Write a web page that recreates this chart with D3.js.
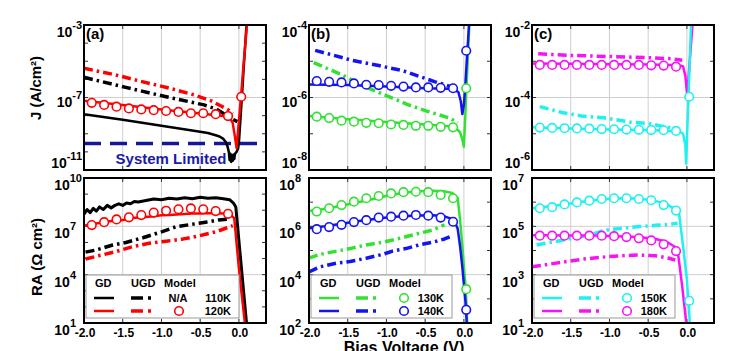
<!DOCTYPE html>
<html>
<head>
<meta charset="utf-8">
<script src="https://cdn.jsdelivr.net/npm/d3@7"></script>
<style>
  body { margin: 0; background: #fff; }
  svg text { font-family: "Liberation Sans", Arial, sans-serif; font-weight: bold; }
</style>
</head>
<body>
<svg id="chart" width="750" height="351"></svg>
<script>
// ---------- data : current density J (A/cm^2), top row ----------
// (a) 110K / 120K
const vGD110 = [-2.0,-1.75,-1.5,-1.25,-1.0,-0.75,-0.5,-0.4,-0.3,-0.25,-0.2,-0.17,-0.15,-0.13,-0.12,-0.11,-0.10,-0.09,-0.08,-0.07,-0.06,-0.05,-0.03,-0.01,0.0,0.02,0.04,0.06,0.08,0.10];
const jGD110 = [1.2e-8,8.3e-9,5.9e-9,4.0e-9,2.8e-9,1.9e-9,1.3e-9,1.1e-9,8.3e-10,7.1e-10,5.2e-10,3.5e-10,2.2e-10,1.0e-10,3.5e-11,7.9e-11,2.8e-11,6.3e-11,3.2e-11,7.1e-11,4.0e-11,7.9e-11,1.0e-10,1.6e-10,3.2e-10,6.3e-9,1.3e-7,3.2e-6,6.3e-5,1.3e-3];
const vGD120 = [-2.0,-1.5,-1.0,-0.5,-0.2,-0.12,-0.08,-0.05,-0.03,0.0,0.03,0.06,0.09,0.12];
const jGD120 = [6.6e-8,3.8e-8,2.2e-8,1.3e-8,9.5e-9,7.9e-9,4.0e-9,6.3e-10,1.6e-10,5.0e-9,1.6e-7,6.3e-6,2.0e-4,6.3e-3];
const vUGD110 = [-2.0,-1.46,-0.94,-0.45,-0.3,-0.17,-0.08,-0.02];
const jUGD110 = [1.3e-6,3.6e-7,1.1e-7,3.9e-8,2.4e-8,1.1e-8,6.3e-9,4.7e-9];
const vUGD120 = [-2.0,-1.6,-1.28,-0.9,-0.58,-0.35,-0.23,-0.13,-0.08];
const jUGD120 = [4.1e-6,1.8e-6,8.1e-7,3.3e-7,1.4e-7,6.3e-8,3.4e-8,2.0e-8,1.3e-8];
const vModel = [-1.9,-1.74,-1.58,-1.42,-1.26,-1.1,-0.94,-0.78,-0.62,-0.46,-0.3,-0.14,0.03];
const jMod120 = [5.1e-8,3.9e-8,3.1e-8,2.5e-8,2.2e-8,2.0e-8,1.8e-8,1.6e-8,1.35e-8,1.35e-8,1.2e-8,9.5e-9,1.1e-7];
const jSystemLimit = 2.9e-10;

// (b) 130K / 140K
const vGD130 = [-2.0,-1.5,-1.0,-0.5,-0.2,-0.1,-0.05,-0.02,0.0,0.02,0.04,0.06,0.08];
const jGD130 = [3.1e-7,2.5e-7,2.1e-7,1.8e-7,1.6e-7,1.4e-7,1.1e-7,7.1e-8,4.4e-8,4.0e-7,4.0e-6,3.2e-5,3.2e-4];
const vGD140 = [-2.0,-1.5,-1.0,-0.5,-0.2,-0.12,-0.07,-0.04,-0.02,0.0,0.02,0.04,0.06,0.08];
const jGD140 = [2.3e-6,2.2e-6,2.0e-6,1.8e-6,1.75e-6,1.65e-6,1.4e-6,7.9e-7,3.5e-7,6.3e-7,2.5e-6,1.3e-5,6.3e-5,3.2e-4];
const vUGD130 = [-1.94,-1.6,-1.3,-0.97,-0.71,-0.46,-0.18,-0.08];
const jUGD130 = [9.1e-6,4.5e-6,2.1e-6,1.05e-6,6.2e-7,4.1e-7,2.7e-7,2.0e-7];
const vUGD140 = [-1.92,-1.45,-1.1,-0.79,-0.38,-0.14,-0.06];
const jUGD140 = [2.0e-5,1.07e-5,7.6e-6,5.5e-6,2.75e-6,1.9e-6,1.65e-6];
const jMod130 = [2.95e-7,2.7e-7,2.3e-7,2.15e-7,2.0e-7,1.95e-7,1.8e-7,1.75e-7,1.65e-7,1.65e-7,1.55e-7,1.5e-7,1.8e-6];
const jMod140 = [2.85e-6,2.7e-6,2.6e-6,2.45e-6,2.25e-6,2.2e-6,2.1e-6,2.0e-6,1.9e-6,1.9e-6,1.85e-6,1.8e-6,1.95e-5];

// (c) 150K / 180K
const vGD150 = [-2.0,-1.5,-1.0,-0.5,-0.2,-0.1,-0.05,-0.02,-0.01,0.0,0.02,0.04,0.06];
const jGD150 = [1.5e-5,1.4e-5,1.3e-5,1.26e-5,1.2e-5,1.17e-5,1.0e-5,5.0e-6,1.5e-6,6.3e-6,1.0e-4,1.6e-3,2.5e-2];
const vGD180 = [-2.0,-1.5,-1.0,-0.5,-0.2,-0.1,-0.05,-0.02,0.0,0.02,0.05,0.08];
const jGD180 = [8.7e-4,8.5e-4,8.3e-4,8.1e-4,7.9e-4,7.8e-4,7.2e-4,4.0e-4,1.4e-4,3.2e-4,2.5e-3,1.6e-2];
const vUGD150 = [-1.9,-1.6,-1.36,-1.04,-0.74,-0.49,-0.31,-0.14];
const jUGD150 = [5.6e-5,3.8e-5,3.1e-5,2.7e-5,2.1e-5,1.9e-5,1.6e-5,1.4e-5];
const vUGD180 = [-1.92,-1.5,-1.0,-0.5,-0.2,-0.06];
const jUGD180 = [1.6e-3,1.45e-3,1.35e-3,1.26e-3,1.17e-3,1.07e-3];
const jMod150 = [1.48e-5,1.45e-5,1.42e-5,1.4e-5,1.38e-5,1.35e-5,1.33e-5,1.3e-5,1.28e-5,1.26e-5,1.25e-5,1.2e-5,1.05e-4];
const jMod180 = [7.9e-4,7.9e-4,7.9e-4,7.9e-4,7.9e-4,7.9e-4,7.9e-4,7.9e-4,7.9e-4,7.7e-4,7.6e-4,7.1e-4];

// ---------- data : RA (Ohm cm^2), bottom row ----------
const vRaGD110 = [-2.0,-1.96,-1.92,-1.88,-1.84,-1.8,-1.75,-1.7,-1.65,-1.6,-1.55,-1.5,-1.45,-1.4,-1.35,-1.3,-1.2,-1.1,-1.0,-0.9,-0.8,-0.7,-0.6,-0.5,-0.4,-0.3,-0.2,-0.12,-0.07,-0.04,0.0,0.05,0.1];
const raGD110 = [5.6e7,1.1e8,7.1e7,1.3e8,8.9e7,1.6e8,1.1e8,2.0e8,1.4e8,2.0e8,2.5e8,2.0e8,2.8e8,2.5e8,3.5e8,3.2e8,4.0e8,5.0e8,4.5e8,5.6e8,5.0e8,6.0e8,5.2e8,6.3e8,5.6e8,6.0e8,5.2e8,4.5e8,2.8e8,1.6e8,1.3e6,3.2e3,8];
const vRaGD120 = [-2.0,-1.9,-1.8,-1.7,-1.6,-1.5,-1.4,-1.3,-1.2,-1.1,-1.0,-0.9,-0.8,-0.7,-0.6,-0.5,-0.4,-0.3,-0.2,-0.12,-0.06,0.0,0.04,0.08];
const raGD120 = [1.1e7,1.4e7,1.6e7,2.0e7,2.2e7,2.5e7,3.2e7,3.5e7,3.8e7,4.2e7,4.8e7,5.0e7,5.5e7,5.8e7,6.3e7,6.3e7,6.6e7,6.6e7,6.3e7,6.0e7,3.2e7,2.5e4,4.0e2,8];
const vRaUGD110 = [-1.98,-1.84,-1.63,-1.46,-1.24,-0.99,-0.81,-0.6,-0.43,-0.26,-0.13];
const raUGD110 = [2.5e5,3.4e5,6.9e5,1.0e6,1.95e6,4.7e6,9.5e6,1.35e7,1.8e7,2.5e7,2.8e7];
const vRaUGD120 = [-1.98,-1.81,-1.59,-1.37,-1.16,-0.94,-0.73,-0.51,-0.29,-0.17,-0.08];
const raUGD120 = [9.3e4,1.5e5,2.7e5,5.5e5,8.9e5,1.2e6,1.6e6,2.6e6,4.7e6,7.6e6,1.1e7];
const raMod120 = [1.2e7,1.8e7,2.7e7,3.6e7,5.0e7,7.1e7,9.3e7,1.15e8,1.3e8,1.15e8,8.9e7,6.0e7];

const vRaGD130 = [-2.0,-1.8,-1.6,-1.4,-1.2,-1.0,-0.8,-0.6,-0.4,-0.25,-0.15,-0.08,-0.05,-0.02,0.0,0.02,0.03,0.04,0.05];
const raGD130 = [4.3e6,5.2e6,6.9e6,9.5e6,1.3e7,1.8e7,2.4e7,2.8e7,3.0e7,2.8e7,2.4e7,1.45e7,2.0e6,1.6e5,2.0e4,4.0e3,1.0e3,160,32];
const vRaGD140 = [-2.0,-1.8,-1.6,-1.4,-1.2,-1.0,-0.8,-0.6,-0.4,-0.25,-0.15,-0.12,-0.08,-0.05,-0.02,0.0,0.02,0.03,0.045];
const raGD140 = [8.3e5,1.0e6,1.26e6,1.6e6,1.9e6,2.3e6,2.6e6,2.8e6,2.9e6,2.6e6,2.0e6,1.6e6,7.9e5,1.6e5,2.0e4,4.0e3,790,250,32];
const vRaUGD130 = [-2.0,-1.86,-1.64,-1.47,-1.26,-1.05,-0.92,-0.75,-0.58,-0.4,-0.25];
const raUGD130 = [4.8e4,6.9e4,9.5e4,1.2e5,1.7e5,2.2e5,2.7e5,3.7e5,5.1e5,7.1e5,1.15e6];
const vRaUGD140 = [-2.0,-1.86,-1.64,-1.47,-1.26,-1.05,-0.92,-0.75,-0.58,-0.4,-0.25,-0.15];
const raUGD140 = [1.3e4,2.1e4,3.0e4,3.5e4,4.8e4,6.9e4,9.5e4,1.2e5,1.7e5,2.2e5,3.0e5,4.1e5];
const raMod130 = [4.1e6,5.6e6,7.6e6,1.05e7,1.45e7,1.8e7,2.3e7,2.6e7,2.7e7,2.6e7,2.0e7,1.45e7,2.5e3];
const raMod140 = [7.6e5,9.3e5,1.15e6,1.5e6,1.8e6,2.3e6,2.5e6,2.75e6,2.95e6,2.75e6,2.3e6,1.55e6,350];

const vRaGD150 = [-2.0,-1.8,-1.6,-1.4,-1.2,-1.0,-0.8,-0.6,-0.4,-0.25,-0.15,-0.1,-0.05,0.0,0.02,0.04];
const raGD150 = [5.6e5,6.6e5,7.9e5,1.0e6,1.2e6,1.4e6,1.45e6,1.4e6,1.1e6,7.9e5,5.0e5,3.2e5,1.6e4,630,79,7.9];
const vRaGD180 = [-2.0,-1.8,-1.6,-1.4,-1.2,-1.0,-0.8,-0.6,-0.4,-0.25,-0.15,-0.12,-0.06,-0.01,0.01];
const raGD180 = [4.3e4,4.3e4,4.2e4,4.2e4,4.2e4,4.0e4,3.8e4,3.5e4,3.0e4,2.2e4,1.4e4,1.05e4,320,11.5,3.2];
const vRaUGD150 = [-1.94,-1.75,-1.47,-1.3,-1.04,-0.83,-0.61,-0.4,-0.23,-0.12];
const raUGD150 = [1.7e4,2.2e4,3.2e4,4.0e4,7.1e4,8.3e4,9.8e4,1.1e5,1.2e5,1.35e5];
const vRaUGD180 = [-2.0,-1.69,-1.34,-1.04,-0.8,-0.61,-0.4,-0.23,-0.15];
const raUGD180 = [2.1e3,3.0e3,4.4e3,5.5e3,6.2e3,6.5e3,6.0e3,4.8e3,4.0e3];
const raMod150 = [5.6e5,6.2e5,8.1e5,9.8e5,1.15e6,1.35e6,1.45e6,1.45e6,1.35e6,1.2e6,7.6e5,4.5e5,83];
const raMod180 = [4.1e4,4.1e4,4.1e4,4.1e4,4.1e4,4.1e4,3.9e4,3.6e4,3.2e4,2.6e4,1.8e4,9.5e3];

// axis ticks
const xTicks = [-2.0, -1.5, -1.0, -0.5, 0.0];
const xTickLabels = ["-2.0", "-1.5", "-1.0", "-0.5", "0.0"];

// colours
const C = {k: "#000000", r: "#ff0000", g: "#33e033", b: "#1414f0", c: "#1ff0f0", m: "#f614f6"};

// ---------- layout ----------
const svg = d3.select("#chart");
const panelLeft = [84, 309, 532];
const panelW = 182;
const rows = [{y0: 25, y1: 170, lab: [12, 9.5, -2]}, {y0: 178, y1: 323, lab: [12, 12, 12, 12]}];

const x = d3.scaleLinear().domain([-2, 0.35]).range([0, panelW]);

const zipd = (a, b) => d3.zip(a, b);

const panels = [
  // top row
  {col: 0, row: 0, dom: [1e-11, 1e-3], labels: [-3, -7, -11], grid: [-7], tag: "(a)", limit: true,
   series: [
     {k: "ugd", c: C.k, d: zipd(vUGD110, jUGD110)},
     {k: "ugd", c: C.r, d: zipd(vUGD120, jUGD120)},
     {k: "gd", c: C.k, d: zipd(vGD110, jGD110)},
     {k: "gd", c: C.r, d: zipd(vGD120, jGD120)},
     {k: "model", c: C.r, d: zipd(vModel, jMod120)}
   ]},
  {col: 1, row: 0, dom: [1e-8, 1e-4], labels: [-4, -6, -8], grid: [-6], tag: "(b)",
   series: [
     {k: "ugd", c: C.g, d: zipd(vUGD130, jUGD130)},
     {k: "ugd", c: C.b, d: zipd(vUGD140, jUGD140)},
     {k: "gd", c: C.g, d: zipd(vGD130, jGD130)},
     {k: "gd", c: C.b, d: zipd(vGD140, jGD140)},
     {k: "model", c: C.g, d: zipd(vModel, jMod130)},
     {k: "model", c: C.b, d: zipd(vModel, jMod140)}
   ]},
  {col: 2, row: 0, dom: [1e-6, 1e-2], labels: [-2, -4, -6], grid: [-4], tag: "(c)",
   series: [
     {k: "ugd", c: C.m, d: zipd(vUGD180, jUGD180)},
     {k: "ugd", c: C.c, d: zipd(vUGD150, jUGD150)},
     {k: "gd", c: C.m, d: zipd(vGD180, jGD180)},
     {k: "gd", c: C.c, d: zipd(vGD150, jGD150)},
     {k: "model", c: C.m, d: zipd(vModel, jMod180)},
     {k: "model", c: C.c, d: zipd(vModel, jMod150)}
   ]},
  // bottom row
  {col: 0, row: 1, dom: [1e1, 1e10], labels: [10, 7, 4, 1], grid: [7, 4],
   legend: {w: 153, rows: [{c: C.k, t: "110K", na: true}, {c: C.r, t: "120K"}]},
   series: [
     {k: "ugd", c: C.k, d: zipd(vRaUGD110, raUGD110)},
     {k: "ugd", c: C.r, d: zipd(vRaUGD120, raUGD120)},
     {k: "gd", c: C.k, d: zipd(vRaGD110, raGD110), w: 3},
     {k: "gd", c: C.r, d: zipd(vRaGD120, raGD120)},
     {k: "model", c: C.r, d: zipd(vModel, raMod120)}
   ]},
  {col: 1, row: 1, dom: [1e2, 1e8], labels: [8, 6, 4, 2], grid: [6, 4],
   legend: {w: 141, rows: [{c: C.g, t: "130K"}, {c: C.b, t: "140K"}]},
   series: [
     {k: "ugd", c: C.g, d: zipd(vRaUGD130, raUGD130)},
     {k: "ugd", c: C.b, d: zipd(vRaUGD140, raUGD140)},
     {k: "gd", c: C.g, d: zipd(vRaGD130, raGD130)},
     {k: "gd", c: C.b, d: zipd(vRaGD140, raGD140)},
     {k: "model", c: C.g, d: zipd(vModel, raMod130)},
     {k: "model", c: C.b, d: zipd(vModel, raMod140)}
   ]},
  {col: 2, row: 1, dom: [1e1, 1e7], labels: [7, 5, 3, 1], grid: [5, 3],
   legend: {w: 141, rows: [{c: C.c, t: "150K"}, {c: C.m, t: "180K"}]},
   series: [
     {k: "ugd", c: C.c, d: zipd(vRaUGD150, raUGD150)},
     {k: "ugd", c: C.m, d: zipd(vRaUGD180, raUGD180)},
     {k: "gd", c: C.c, d: zipd(vRaGD150, raGD150)},
     {k: "gd", c: C.m, d: zipd(vRaGD180, raGD180)},
     {k: "model", c: C.c, d: zipd(vModel, raMod150)},
     {k: "model", c: C.m, d: zipd(vModel, raMod180)}
   ]}
];

const UGD_DASH = "9,4,2.5,4";

panels.forEach((p, i) => {
  const L = panelLeft[p.col];
  const r = rows[p.row];
  const h = r.y1 - r.y0;
  const y = d3.scaleLog().domain(p.dom).range([h, 0]);

  const g = svg.append("g").attr("transform", `translate(${L},${r.y0})`);

  // clip
  svg.append("clipPath").attr("id", "clip" + i)
    .append("rect").attr("width", panelW).attr("height", h);

  // grid
  g.selectAll(".vgrid").data(xTicks.slice(1)).enter().append("line")
    .attr("x1", d => x(d)).attr("x2", d => x(d))
    .attr("y1", 0).attr("y2", h)
    .attr("stroke", "#cfcfcf").attr("stroke-width", 1);
  g.selectAll(".hgrid").data(p.grid).enter().append("line")
    .attr("x1", 0).attr("x2", panelW)
    .attr("y1", d => y(Math.pow(10, d))).attr("y2", d => y(Math.pow(10, d)))
    .attr("stroke", "#cfcfcf").attr("stroke-width", 1);

  // decade ticks (inward, both sides)
  const lo = Math.round(Math.log10(p.dom[0])), hi = Math.round(Math.log10(p.dom[1]));
  const decades = d3.range(lo, hi + 1).map(e => Math.pow(10, e));
  decades.forEach(v => {
    g.append("line").attr("x1", 0).attr("x2", 4).attr("y1", y(v)).attr("y2", y(v)).attr("stroke", "#333");
    g.append("line").attr("x1", panelW - 4).attr("x2", panelW).attr("y1", y(v)).attr("y2", y(v)).attr("stroke", "#333");
  });
  xTicks.slice(1).forEach(v => {
    g.append("line").attr("x1", x(v)).attr("x2", x(v)).attr("y1", h).attr("y2", h - 4).attr("stroke", "#333");
    g.append("line").attr("x1", x(v)).attr("x2", x(v)).attr("y1", 0).attr("y2", 4).attr("stroke", "#333");
  });

  const plot = g.append("g").attr("clip-path", `url(#clip${i})`);
  const line = d3.line().x(d => x(d[0])).y(d => y(d[1]));

  // measurement floor (panel a)
  if (p.limit) {
    plot.append("line")
      .attr("x1", 0).attr("x2", panelW)
      .attr("y1", y(jSystemLimit)).attr("y2", y(jSystemLimit))
      .attr("stroke", "#16169a").attr("stroke-width", 3.5)
      .attr("stroke-dasharray", "17,9");
  }

  p.series.forEach(s => {
    if (s.k === "model") {
      plot.selectAll(null).data(s.d).enter().append("circle")
        .attr("cx", d => x(d[0])).attr("cy", d => y(d[1]))
        .attr("r", 4.3)
        .attr("fill", "#fff").attr("stroke", s.c).attr("stroke-width", 1.6);
    } else {
      plot.append("path").datum(s.d)
        .attr("d", line)
        .attr("fill", "none")
        .attr("stroke", s.c)
        .attr("stroke-width", s.k === "ugd" ? 3.5 : (s.w || 2.5))
        .attr("stroke-dasharray", s.k === "ugd" ? UGD_DASH : null)
        .attr("stroke-linejoin", "round");
    }
  });

  if (p.limit) {
    g.append("text")
      .attr("x", 87).attr("y", 139)
      .attr("text-anchor", "middle")
      .attr("font-size", 15)
      .attr("fill", "#1a1aa8")
      .text("System Limited");
  }

  // legend
  if (p.legend) {
    const lg = g.append("g").attr("transform", `translate(2,${275 - r.y0})`);
    lg.append("rect").attr("width", p.legend.w).attr("height", 43)
      .attr("fill", "#fff").attr("stroke", "#999").attr("stroke-width", 1);
    const hx = [9, 45, 78];
    ["GD", "UGD", "Model"].forEach((t, j) => {
      lg.append("text").attr("x", hx[j]).attr("y", 12).attr("font-size", 11).text(t);
    });
    p.legend.rows.forEach((row, j) => {
      const ly = 23 + j * 13;
      lg.append("line").attr("x1", 8).attr("x2", 28).attr("y1", ly).attr("y2", ly)
        .attr("stroke", row.c).attr("stroke-width", 2.5);
      lg.append("line").attr("x1", 45).attr("x2", 69).attr("y1", ly).attr("y2", ly)
        .attr("stroke", row.c).attr("stroke-width", 3.5).attr("stroke-dasharray", "12,5,3,5");
      if (row.na) {
        lg.append("text").attr("x", 92).attr("y", ly + 4).attr("font-size", 11)
          .attr("text-anchor", "middle").text("N/A");
      } else {
        lg.append("circle").attr("cx", 93).attr("cy", ly).attr("r", 4.3)
          .attr("fill", "#fff").attr("stroke", row.c).attr("stroke-width", 1.6);
      }
      lg.append("text").attr("x", p.legend.w - 8).attr("y", ly + 4).attr("font-size", 11)
        .attr("text-anchor", "end").text(row.t);
    });
  }

  // frame
  g.append("rect").attr("width", panelW).attr("height", h)
    .attr("fill", "none").attr("stroke", "#000").attr("stroke-width", 2);

  // y tick labels 10^n
  p.labels.forEach((e, j) => {
    const es = String(e);
    const t = g.append("text")
      .attr("x", es.length > 1 ? -2 : -8)
      .attr("y", y(Math.pow(10, e)) + r.lab[j])
      .attr("text-anchor", "end")
      .attr("font-size", 14);
    t.append("tspan").text("10");
    t.append("tspan").attr("dy", -8).attr("font-size", 11).text(es);
  });

  // panel tag
  if (p.tag) {
    g.append("text").attr("x", 2).attr("y", 14).attr("font-size", 15).text(p.tag);
  }

  // x tick labels on bottom row
  if (p.row === 1) {
    g.selectAll(".xl").data(xTicks).enter().append("text")
      .attr("x", d => x(d) + 1)
      .attr("y", h + 14)
      .attr("text-anchor", "middle")
      .attr("font-size", 12)
      .text((d, j) => xTickLabels[j]);
  }
});

// axis titles
svg.append("text")
  .attr("transform", "translate(41,88) rotate(-90)")
  .attr("text-anchor", "middle")
  .attr("font-size", 15)
  .text("J (A/cm²)");
svg.append("text")
  .attr("transform", "translate(42,257) rotate(-90)")
  .attr("text-anchor", "middle")
  .attr("font-size", 15)
  .text("RA (Ω cm²)");
svg.append("text")
  .attr("x", 404).attr("y", 353)
  .attr("text-anchor", "middle")
  .attr("font-size", 16)
  .text("Bias Voltage (V)");
</script>
</body>
</html>
